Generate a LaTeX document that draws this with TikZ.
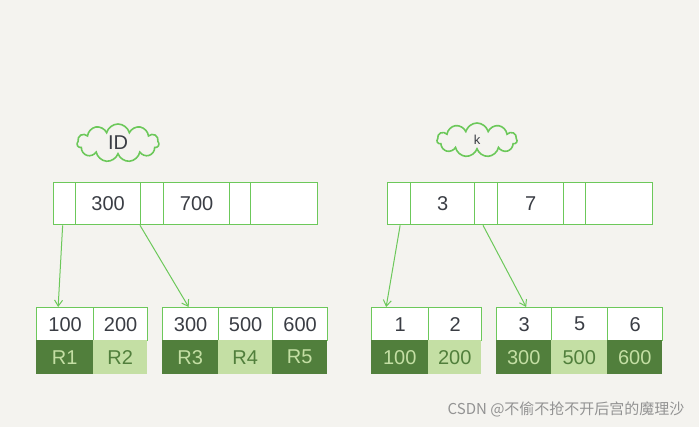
\documentclass[tikz,border=0pt]{standalone}
\usepackage{fontspec}
\setmainfont{Liberation Sans}
\newfontfamily\cjk{Noto Sans CJK SC}
\usetikzlibrary{shapes.symbols,arrows.meta}
\definecolor{bg}{HTML}{F4F3EF}
\definecolor{gline}{HTML}{6CC85A}
\definecolor{dk}{HTML}{517F3C}
\definecolor{lt}{HTML}{C4DFA4}
\definecolor{ink}{HTML}{3A3D44}
\tikzset{
 x=1pt,y=-1pt,
 cell/.style={draw=gline,line width=1.3pt,fill=white,inner sep=0,anchor=north west,font=\fontsize{20}{20}\selectfont,text=ink},
 dcell/.style={fill=dk,inner sep=0,anchor=north west,font=\fontsize{20}{20}\selectfont,text=lt},
 lcell/.style={fill=lt,inner sep=0,anchor=north west,font=\fontsize{20}{20}\selectfont,text=dk},
 cloudy/.style={cloud,cloud puffs=11,draw=gline,line width=1.6pt,aspect=2.2,font=\fontsize{20}{20}\selectfont,text=ink,inner sep=1pt},
 link/.style={draw=gline,line width=1pt,-{Straight Barb[length=6pt,width=8pt]}}
}
\newcommand{\C}[5]{\node[cell,minimum width=#3,minimum height=#4] (#1) at (#2) {#5};}
\begin{document}
\begin{tikzpicture}
\fill[bg] (0,0) rectangle (699,427);
\useasboundingbox (0,0) rectangle (699,427);
% clouds
\node[cloudy,minimum width=82,minimum height=38] (cid) at (118,143) {ID};
\node[cloudy,minimum width=80,minimum height=34] (ck) at (477,140) {\fontsize{13}{13}\selectfont k};
% left top
\C{a0}{53,182}{22}{42}{}
\C{a1}{75,182}{65}{42}{300}
\C{a2}{140,182}{23}{42}{}
\C{a3}{163,182}{66}{42}{700}
\C{a4}{229,182}{21}{42}{}
\C{a5}{250,182}{67}{42}{}
% left leaves
\C{l1}{36,307}{57}{33}{100}
\C{l2}{93,307}{54}{33}{200}
\node[dcell,minimum width=57,minimum height=34] at (36,340) {R1};
\node[lcell,minimum width=54,minimum height=34] at (93,340) {R2};
\C{m1}{162,307}{56}{33}{300}
\C{m2}{218,307}{54}{33}{500}
\C{m3}{272,307}{55}{33}{600}
\node[dcell,minimum width=56,minimum height=34] at (162,340) {R3};
\node[lcell,minimum width=54,minimum height=34] at (218,340) {R4};
\node[dcell,minimum width=55,minimum height=34] at (272,340) {R5};
% right top
\C{b0}{387,182}{23}{42}{}
\C{b1}{410,182}{64}{42}{3}
\C{b2}{474,182}{23}{42}{}
\C{b3}{497,182}{66}{42}{7}
\C{b4}{563,182}{22}{42}{}
\C{b5}{585,182}{67}{42}{}
% right leaves
\C{r1}{371,307}{57}{33}{1}
\C{r2}{428,307}{53}{33}{2}
\node[dcell,minimum width=57,minimum height=34] at (371,340) {100};
\node[lcell,minimum width=53,minimum height=34] at (428,340) {200};
\C{s1}{496,307}{55}{33}{3}
\C{s2}{551,307}{56}{33}{5}
\C{s3}{607,307}{55}{33}{6}
\node[dcell,minimum width=55,minimum height=34] at (496,340) {300};
\node[lcell,minimum width=56,minimum height=34] at (551,340) {500};
\node[dcell,minimum width=55,minimum height=34] at (607,340) {600};
% arrows
\draw[link] ([xshift=-2pt]a0.south) -- ([xshift=-7pt]l1.north);
\draw[link] (a2.south west) -- ([xshift=-2pt]m1.north);
\draw[link] ([xshift=1pt]b0.south) -- ([xshift=-14pt]r1.north);
\draw[link] ([xshift=9pt]b2.south west) -- ([xshift=2pt]s1.north);
\node[anchor=east,text=gray!85,font=\cjk\fontsize{15}{15}\selectfont] (wm) at (688,409) {CSDN @不偷不抢不开后宫的魔理沙};
\end{tikzpicture}
\end{document}
